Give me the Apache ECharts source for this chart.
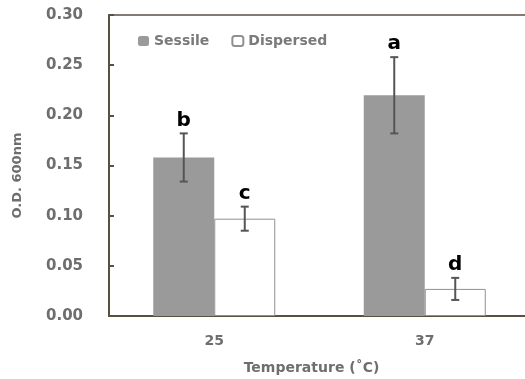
<!DOCTYPE html>
<html>
<head>
<meta charset="utf-8">
<script src="https://cdn.jsdelivr.net/npm/echarts@6/dist/echarts.min.js"></script>
<style>
  html, body { margin: 0; padding: 0; background: #fff; }
  #chart { width: 525px; height: 379px; }
</style>
</head>
<body>
<div id="chart"></div>
<script>
// data
const temps = ['25', '37']
const sessile = [0.158, 0.220]
const sessileErr = [0.024, 0.038]
const sessileLetters = ['b', 'a']
const dispersed = [0.097, 0.027]
const dispersedErr = [0.012, 0.011]
const dispersedLetters = ['c', 'd']
const yTicks = [0, 0.05, 0.10, 0.15, 0.20, 0.25, 0.30]

const BAR_W = 61
const chart = echarts.init(document.getElementById('chart'))

// error bar + significance letter, shifted to sit over its own bar
const errorSeries = (name, values, errs, letters, side) => ({
  type: 'custom',
  name: name + '-err',
  z: 10,
  data: values.map((v, i) => [i, v, errs[i]]),
  renderItem: (params, api) => {
    const x = api.coord([api.value(0), 0])[0] + side * BAR_W / 2
    const hi = api.coord([api.value(0), api.value(1) + api.value(2)])[1]
    const lo = api.coord([api.value(0), api.value(1) - api.value(2)])[1]
    const cap = 4
    const st = { stroke: '#555', lineWidth: 2 }
    return {
      type: 'group',
      children: [
        { type: 'line', shape: { x1: x, y1: hi, x2: x, y2: lo }, style: st },
        { type: 'line', shape: { x1: x - cap, y1: hi, x2: x + cap, y2: hi }, style: st },
        { type: 'line', shape: { x1: x - cap, y1: lo, x2: x + cap, y2: lo }, style: st },
        {
          type: 'text',
          x: x, y: hi - 3,
          style: {
            text: letters[params.dataIndex],
            fill: '#000',
            font: 'bold 20px "DejaVu Sans"',
            align: 'center',
            verticalAlign: 'bottom'
          }
        }
      ]
    }
  }
})

const grey = '#6e6e6e'
const font = { color: grey, fontFamily: 'DejaVu Sans', fontWeight: 'bold' }

const option = {
  backgroundColor: '#fff',
  animation: false,
  grid: {
    left: 109,
    right: -5,
    top: 15,
    bottom: 63,
    outerBoundsMode: 'none',
    show: true,
    borderColor: '#5a5040',
    borderWidth: 1.5
  },
  legend: {
    data: ['Sessile', 'Dispersed'],
    left: 133,
    top: 29,
    itemWidth: 11,
    itemHeight: 10,
    itemGap: 22,
    textStyle: { ...font, color: '#7a7a7a', fontSize: 14 }
  },
  xAxis: {
    type: 'category',
    data: temps,
    name: 'Temperature (˚C)',
    nameLocation: 'middle',
    nameGap: 45,
    nameTextStyle: { ...font, fontSize: 14, padding: [0, 16, 0, 0] },
    axisLine: { lineStyle: { color: '#5a5040', width: 2 } },
    axisTick: { show: false },
    axisLabel: { ...font, fontSize: 14, margin: 18 }
  },
  yAxis: {
    type: 'value',
    min: 0,
    max: yTicks[yTicks.length - 1],
    interval: yTicks[1],
    name: 'O.D. 600nm',
    nameLocation: 'middle',
    nameGap: 85,
    nameTextStyle: { ...font, fontSize: 13, padding: [0, 20, 0, 0] },
    axisLine: { show: true, lineStyle: { color: '#5a5040', width: 2 } },
    axisTick: { show: true, inside: true, length: 5, lineStyle: { color: '#5a5040', width: 2 } },
    splitLine: { show: false },
    axisLabel: { ...font, fontSize: 15, margin: 26, formatter: v => v.toFixed(2) }
  },
  series: [
    {
      name: 'Sessile',
      type: 'bar',
      data: sessile,
      barWidth: BAR_W,
      barGap: '0%',
      itemStyle: { color: '#9a9a9a' }
    },
    {
      name: 'Dispersed',
      type: 'bar',
      data: dispersed,
      barWidth: BAR_W,
      barGap: '0%',
      itemStyle: { color: '#fff', borderColor: '#909090', borderWidth: 1 }
    },
    errorSeries('Sessile', sessile, sessileErr, sessileLetters, -1),
    errorSeries('Dispersed', dispersed, dispersedErr, dispersedLetters, 1)
  ]
}

chart.setOption(option)
</script>
</body>
</html>
